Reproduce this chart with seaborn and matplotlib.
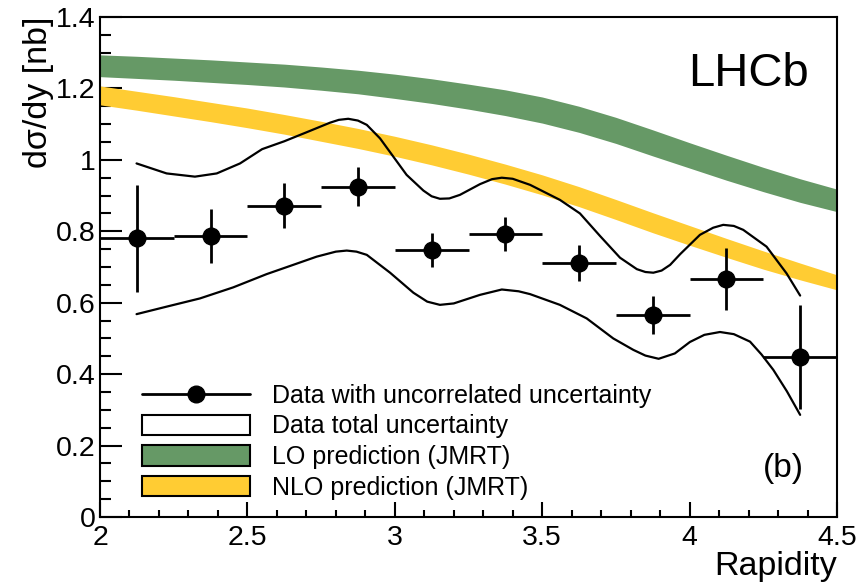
import matplotlib
matplotlib.use("Agg")
import matplotlib.pyplot as plt
import seaborn as sns
import numpy as np
import pandas as pd
from matplotlib.patches import Patch
from matplotlib.lines import Line2D
from matplotlib.ticker import MultipleLocator

# data points (uncorrelated uncertainty)
rapidity = [2.125, 2.375, 2.625, 2.875, 3.125, 3.375, 3.625, 3.875, 4.125, 4.375]
xsec = [0.780, 0.787, 0.872, 0.925, 0.748, 0.793, 0.711, 0.566, 0.667, 0.448]
stat_err = [0.150, 0.076, 0.063, 0.055, 0.047, 0.048, 0.050, 0.054, 0.087, 0.145]
bin_half = [0.125] * 10

# total uncertainty envelope
upper_x = [2.124, 2.226, 2.322, 2.396, 2.475, 2.55, 2.625, 2.70, 2.780, 2.81, 2.842, 2.875,
           2.905, 2.950, 2.995, 3.040, 3.097, 3.125, 3.153, 3.185, 3.221, 3.289, 3.33, 3.363,
           3.40, 3.459, 3.560, 3.628, 3.696, 3.764, 3.821, 3.85, 3.877, 3.905, 3.934, 3.968,
           4.035, 4.08, 4.114, 4.15, 4.182, 4.261, 4.329, 4.375]
upper_y = [0.990, 0.962, 0.953, 0.962, 0.990, 1.030, 1.052, 1.077, 1.104, 1.112, 1.115, 1.110,
           1.098, 1.060, 1.009, 0.958, 0.914, 0.898, 0.891, 0.892, 0.902, 0.932, 0.946, 0.950,
           0.947, 0.930, 0.888, 0.850, 0.787, 0.726, 0.694, 0.686, 0.684, 0.690, 0.706, 0.736,
           0.790, 0.810, 0.818, 0.815, 0.804, 0.757, 0.682, 0.620]
lower_x = [2.124, 2.226, 2.339, 2.452, 2.565, 2.645, 2.735, 2.80, 2.837, 2.87, 2.905, 2.984,
           3.063, 3.110, 3.153, 3.20, 3.289, 3.363, 3.42, 3.459, 3.560, 3.651, 3.741, 3.809,
           3.85, 3.895, 3.95, 4.001, 4.05, 4.103, 4.15, 4.205, 4.244, 4.284, 4.330, 4.375]
lower_y = [0.568, 0.589, 0.612, 0.643, 0.680, 0.703, 0.729, 0.743, 0.746, 0.743, 0.734, 0.684,
           0.628, 0.603, 0.594, 0.598, 0.622, 0.637, 0.632, 0.624, 0.594, 0.556, 0.500, 0.468,
           0.452, 0.443, 0.458, 0.490, 0.510, 0.518, 0.512, 0.491, 0.455, 0.412, 0.352, 0.286]

# JMRT predictions (band edges)
band_x = [2.0, 2.125, 2.25, 2.375, 2.5, 2.625, 2.75, 2.875, 3.0, 3.125, 3.25,
          3.375, 3.5, 3.625, 3.75, 3.875, 4.0, 4.125, 4.25, 4.375, 4.5]
lo_hi = [1.294, 1.290, 1.285, 1.280, 1.274, 1.268, 1.260, 1.251, 1.240, 1.227, 1.212,
         1.196, 1.176, 1.150, 1.119, 1.084, 1.048, 1.013, 0.979, 0.947, 0.918]
lo_lo = [1.233, 1.228, 1.223, 1.217, 1.211, 1.204, 1.195, 1.185, 1.172, 1.158, 1.142,
         1.124, 1.103, 1.077, 1.046, 1.011, 0.977, 0.943, 0.911, 0.881, 0.855]
nlo_hi = [1.207, 1.192, 1.177, 1.161, 1.145, 1.127, 1.108, 1.088, 1.066, 1.042, 1.016,
          0.988, 0.958, 0.925, 0.889, 0.852, 0.816, 0.780, 0.745, 0.711, 0.678]
nlo_lo = [1.154, 1.139, 1.123, 1.107, 1.090, 1.072, 1.052, 1.032, 1.010, 0.986, 0.960,
          0.932, 0.902, 0.869, 0.833, 0.796, 0.761, 0.727, 0.694, 0.664, 0.636]

green = "#669966"
yellow = "#ffcc33"

sns.set_theme(style="white")
plt.rcParams['font.family'] = ['Liberation Sans', 'DejaVu Sans']
plt.rcParams['text.color'] = 'black'
plt.rcParams['axes.labelcolor'] = 'black'
plt.rcParams['xtick.color'] = 'black'
plt.rcParams['ytick.color'] = 'black'

fig = plt.figure(figsize=(8.65, 5.87), dpi=100)
ax = fig.add_axes([100 / 865, 70 / 587, 737 / 865, 500 / 587])

ax.fill_between(band_x, lo_lo, lo_hi, color=green, lw=0)
ax.fill_between(band_x, nlo_lo, nlo_hi, color=yellow, lw=0)

up = pd.DataFrame({'y': upper_x, 'v': upper_y})
low = pd.DataFrame({'y': lower_x, 'v': lower_y})
sns.lineplot(data=up, x='y', y='v', color='black', lw=1.6, sort=False, estimator=None, ax=ax)
sns.lineplot(data=low, x='y', y='v', color='black', lw=1.6, sort=False, estimator=None, ax=ax)

ax.errorbar(rapidity, xsec, xerr=bin_half, yerr=stat_err, fmt='o', color='black',
            ms=12, elinewidth=2, capsize=0, zorder=5)

ax.set_xlim(2, 4.5)
ax.set_ylim(0, 1.4)
ax.xaxis.set_minor_locator(MultipleLocator(0.1))
ax.yaxis.set_minor_locator(MultipleLocator(0.05))
ax.set_xticks([2, 2.5, 3, 3.5, 4, 4.5])
ax.set_xticklabels(['2', '2.5', '3', '3.5', '4', '4.5'])
ax.set_yticks([0, 0.2, 0.4, 0.6, 0.8, 1.0, 1.2, 1.4])
ax.set_yticklabels(['0', '0.2', '0.4', '0.6', '0.8', '1', '1.2', '1.4'])

ax.tick_params(axis='x', which='major', direction='in', length=10.5, width=1.5,
               labelsize=20.5, pad=6, bottom=True, top=False)
ax.tick_params(axis='x', which='minor', direction='in', length=5.3, width=1.5, bottom=True, top=False)
ax.tick_params(axis='y', which='major', direction='in', length=15.5, width=1.5,
               labelsize=20.5, pad=3, left=True, right=False)
ax.tick_params(axis='y', which='minor', direction='in', length=8, width=1.5, left=True, right=False)
for s in ax.spines.values():
    s.set_color('black')
    s.set_linewidth(1.5)

ax.set_xlabel('Rapidity', fontsize=24.5, loc='right')
ax.xaxis.set_label_coords(1.0, -0.068)
ax.set_ylabel('dσ/dy [nb]', fontsize=24.5, loc='top')
ax.yaxis.set_label_coords(-0.062, 1.0)

ax.text(0.962, 0.885, 'LHCb', transform=ax.transAxes, fontsize=34, ha='right', va='center')
ax.text(0.955, 0.098, '(b)', transform=ax.transAxes, fontsize=24, ha='right', va='center')

handles = [Line2D([], [], color='black', lw=2, marker='o', ms=12),
           Patch(facecolor='white', edgecolor='black', lw=1.5),
           Patch(facecolor=green, edgecolor='black', lw=1.5),
           Patch(facecolor=yellow, edgecolor='black', lw=1.5)]
labels = ['Data with uncorrelated uncertainty', 'Data total uncertainty',
          'LO prediction (JMRT)', 'NLO prediction (JMRT)']
fig.legend(handles, labels, loc='upper left', bbox_to_anchor=(142 / 865, 1 - 384 / 587),
           frameon=False, fontsize=18, handlelength=4.3, handleheight=0.89,
           handletextpad=0.92, labelspacing=0.26, borderpad=0, borderaxespad=0)

fig.savefig('out.png', dpi=100)
